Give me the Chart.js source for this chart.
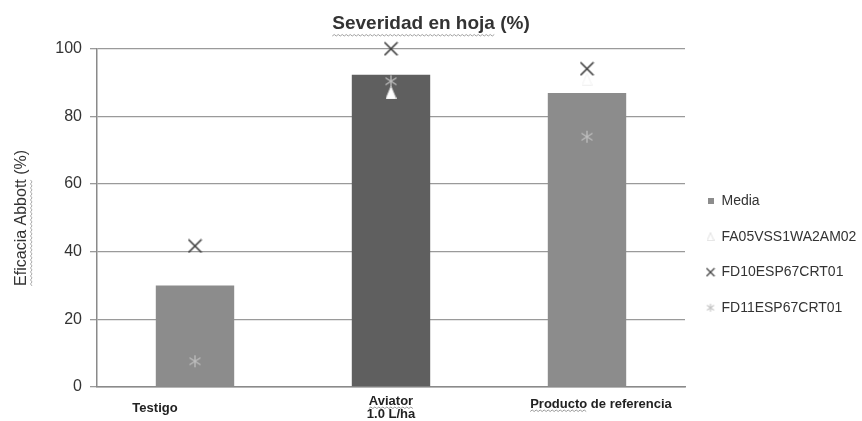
<!DOCTYPE html>
<html>
<head>
<meta charset="utf-8">
<script src="https://cdn.jsdelivr.net/npm/chart.js@4.4.1/dist/chart.umd.min.js"></script>
<style>
  html, body { margin: 0; padding: 0; background: #ffffff; }
  #wrap { width: 862px; height: 421px; }
</style>
</head>
<body>
<div id="wrap"><canvas id="c" width="862" height="421"></canvas></div>
<script>
// Categories and series (Eficacia Abbott, %)
const categories = ['Testigo', ['Aviator', '1.0 L/ha'], 'Producto de referencia'];
const media = [30.0, 92.3, 86.9];
const fa05 = [null, 87.0, 91.0];
const fd10 = [41.7, 100.0, 94.1];
const fd11 = [7.6, 90.4, 74.0];
const yTicks = [0, 20, 40, 60, 80, 100];
const seriesNames = ['Media', 'FA05VSS1WA2AM02', 'FD10ESP67CRT01', 'FD11ESP67CRT01'];
const chartTitle = 'Severidad en hoja (%)';
const yTitle = 'Eficacia Abbott (%)';

const FONT = "'Liberation Sans', Arial, sans-serif";

// ---- marker sprites ----
function sprite(w, h, draw) {
  const c = document.createElement('canvas');
  c.width = w; c.height = h;
  const g = c.getContext('2d');
  draw(g, w, h);
  return c;
}
function xMark(size, color, lw) {
  return sprite(size, size, (g, w, h) => {
    g.strokeStyle = color; g.lineWidth = lw; g.lineCap = 'butt';
    g.beginPath();
    g.moveTo(1, 1); g.lineTo(w - 1, h - 1);
    g.moveTo(w - 1, 1); g.lineTo(1, h - 1);
    g.stroke();
  });
}
function asterisk(size, color, lw) {
  return sprite(size, size, (g, w, h) => {
    g.strokeStyle = color; g.lineWidth = lw;
    g.beginPath();
    g.moveTo(w / 2, 1); g.lineTo(w / 2, h - 1);
    g.moveTo(1.5, h * 0.25); g.lineTo(w - 1.5, h * 0.75);
    g.moveTo(w - 1.5, h * 0.25); g.lineTo(1.5, h * 0.75);
    g.stroke();
  });
}
function triangle(w, h, fill, stroke) {
  return sprite(w, h, (g) => {
    g.fillStyle = fill; g.strokeStyle = stroke; g.lineWidth = 1;
    g.beginPath();
    g.moveTo(w / 2, 0.5); g.lineTo(w - 0.5, h - 0.5); g.lineTo(0.5, h - 0.5);
    g.closePath();
    g.fill(); g.stroke();
  });
}
function square(size, color) {
  return sprite(size, size, (g, w, h) => { g.fillStyle = color; g.fillRect(0, 0, w, h); });
}

const markX = xMark(15, '#3a3a3a', 1.6);
const markStar = asterisk(14, '#bdbdbd', 1.3);
const markTri = triangle(11, 13, '#ffffff', '#f2f2f2');

const legendMarks = [
  square(6, '#8c8c8c'),
  triangle(8, 9, '#ffffff', '#e0e0e0'),
  xMark(10, '#444444', 1.3),
  asterisk(10, '#c4c4c4', 1.1)
];

// ---- wavy underline helper ----
function squiggle(ctx, x1, x2, y, color) {
  ctx.save();
  ctx.strokeStyle = color || '#a8a8a8';
  ctx.lineWidth = 1;
  ctx.beginPath();
  let up = true;
  ctx.moveTo(x1, y);
  for (let x = x1 + 2; x <= x2; x += 2) {
    ctx.lineTo(x, up ? y - 1.5 : y);
    up = !up;
  }
  ctx.stroke();
  ctx.restore();
}

// category label placement tweaks (relative to tick centre / axis line)
const labelDx = [-40, 0, 14];
const labelDy = [[21], [14, 27], [17]];

const decorations = {
  id: 'decorations',
  afterDraw(chart) {
    const ctx = chart.ctx;
    const xs = chart.scales.x;
    const bottom = chart.chartArea.bottom;

    // category labels
    ctx.save();
    ctx.font = 'bold 13px ' + FONT;
    ctx.fillStyle = '#222222';
    ctx.textAlign = 'center';
    ctx.textBaseline = 'middle';
    categories.forEach((lab, i) => {
      const lines = Array.isArray(lab) ? lab : [lab];
      const cx = xs.getPixelForValue(i) + labelDx[i];
      lines.forEach((t, j) => ctx.fillText(t, cx, bottom + labelDy[i][j]));
      const first = lines[0].split(' ')[0];
      if (i > 0) {
        const fullW = ctx.measureText(lines[0]).width;
        const w = ctx.measureText(first).width;
        const x0 = cx - fullW / 2;
        squiggle(ctx, x0, x0 + w, bottom + labelDy[i][0] + 7.5, '#9a9a9a');
      }
    });
    ctx.restore();

    // chart title underline
    const tb = chart.titleBlock;
    ctx.save();
    ctx.font = 'bold 19px ' + FONT;
    const tw = ctx.measureText(chartTitle).width;
    const uw = ctx.measureText('Severidad en hoja').width;
    const tx0 = (tb.left + tb.right) / 2 - tw / 2;
    squiggle(ctx, tx0, tx0 + uw, 36, '#a0a0a0');
    ctx.restore();

    // axis title underline (rotated text)
    ctx.save();
    ctx.font = '16px ' + FONT;
    const yw = ctx.measureText(yTitle).width;
    const ew = ctx.measureText('Eficacia Abbott').width;
    const ycen = (chart.chartArea.top + chart.chartArea.bottom) / 2;
    const yStart = ycen + yw / 2;
    ctx.translate(32, 0);
    ctx.rotate(-Math.PI / 2);
    squiggle(ctx, -yStart, -yStart + ew, 0, '#a8a8a8');
    ctx.restore();
  }
};

const data = {
  labels: categories,
  datasets: [
    {
      type: 'bar',
      label: seriesNames[0],
      data: media,
      backgroundColor: ['#8c8c8c', '#5f5f5f', '#8c8c8c'],
      borderWidth: 0,
      barPercentage: 0.4,
      categoryPercentage: 1.0,
      order: 2
    },
    {
      type: 'line',
      label: seriesNames[1],
      data: fa05,
      showLine: false,
      clip: false,
      pointStyle: markTri,
      pointRadius: 6,
      order: 1
    },
    {
      type: 'line',
      label: seriesNames[2],
      data: fd10,
      showLine: false,
      clip: false,
      pointStyle: markX,
      pointRadius: 7,
      order: 0
    },
    {
      type: 'line',
      label: seriesNames[3],
      data: fd11,
      showLine: false,
      clip: false,
      pointStyle: markStar,
      pointRadius: 7,
      order: 0
    }
  ]
};

new Chart(document.getElementById('c'), {
  data,
  plugins: [decorations],
  options: {
    responsive: false,
    animation: false,
    events: [],
    layout: { padding: { left: 0, right: 0, top: 0, bottom: 0 } },
    plugins: {
      tooltip: { enabled: false },
      title: {
        display: true,
        text: chartTitle,
        color: '#333333',
        font: { family: FONT, size: 19, weight: 'bold' },
        padding: { top: 12, bottom: 14 }
      },
      legend: {
        position: 'right',
        maxWidth: 177,
        title: {
          display: true,
          text: ' ',
          font: { size: 10 },
          padding: { top: 76, bottom: 0 }
        },
        labels: {
          usePointStyle: true,
          pointStyleWidth: 8,
          boxHeight: 8,
          padding: 21.5,
          color: '#333333',
          font: { family: FONT, size: 14 },
          generateLabels: (chart) => chart.data.datasets.map((ds, i) => ({
            text: ds.label,
            pointStyle: legendMarks[i],
            fillStyle: '#8c8c8c',
            strokeStyle: '#8c8c8c',
            lineWidth: 0,
            hidden: false,
            datasetIndex: i,
            fontColor: '#333333'
          }))
        }
      }
    },
    scales: {
      x: {
        type: 'category',
        offset: true,
        grid: { display: false, drawTicks: false },
        border: { display: true, color: '#8a8a8a', width: 1.5 },
        ticks: { display: false },
        afterFit: (s) => { s.height = 34; }
      },
      y: {
        min: 0,
        max: 100,
        afterBuildTicks: (s) => { s.ticks = yTicks.map(v => ({ value: v })); },
        ticks: {
          color: '#333333',
          font: { family: FONT, size: 16 },
          padding: 8
        },
        grid: {
          color: '#9a9a9a',
          lineWidth: 1.3,
          tickLength: 7,
          drawTicks: true
        },
        border: { display: true, color: '#8a8a8a', width: 1.5 },
        title: {
          display: true,
          text: yTitle,
          color: '#333333',
          font: { family: FONT, size: 16 },
          padding: { top: 12, bottom: 0 }
        },
        afterFit: (s) => { s.width = 97; }
      }
    }
  }
});
</script>
</body>
</html>
